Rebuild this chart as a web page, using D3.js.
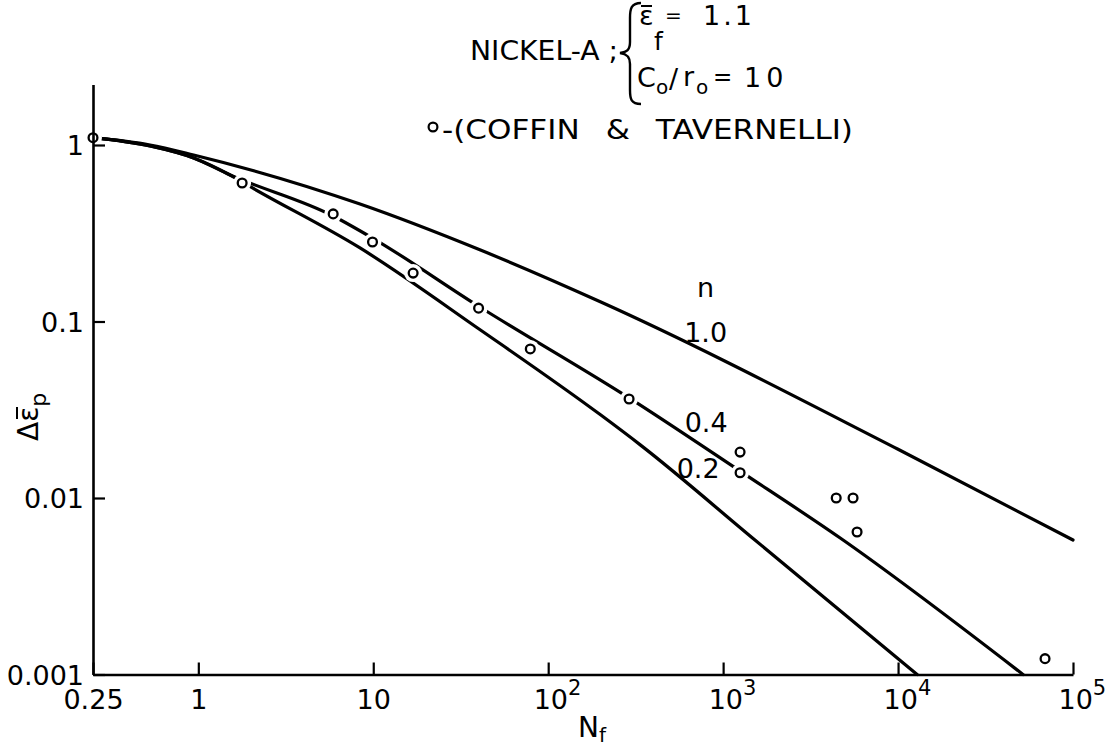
<!DOCTYPE html>
<html>
<head>
<meta charset="utf-8">
<script src="https://cdn.jsdelivr.net/npm/d3@7"></script>
<style>
  body { margin: 0; background: #fff; }
  svg text { font-family: "DejaVu Sans", "Liberation Sans", sans-serif; fill: #000; }
</style>
</head>
<body>
<script>
// n = 1.0 curve (N_f, delta eps_p)
const n10_N = [0.25, 0.53, 0.94, 8.4, 41, 200, 10000, 100000];
const n10_e = [1.1, 1.0, 0.878, 0.463, 0.254, 0.129, 0.0189, 0.00578];
// n = 0.4 curve
const n04_N = [0.25, 0.53, 0.94, 1.52, 5.9, 9.9, 40, 290, 1250, 4670, 51800];
const n04_e = [1.1, 0.987, 0.844, 0.676, 0.396, 0.297, 0.122, 0.0369, 0.0142, 0.00593, 0.001];
// n = 0.2 curve
const n02_N = [0.25, 0.53, 0.94, 1.52, 2.04, 8.4, 41, 200, 336, 1520, 12850];
const n02_e = [1.1, 0.987, 0.844, 0.676, 0.571, 0.261, 0.0895, 0.0295, 0.0200, 0.00578, 0.001];

// Coffin & Tavernelli test points
const pts_N = [0.25, 1.78, 5.9, 9.9, 16.9, 40, 79, 290, 1250, 1250, 4430, 5530, 5830, 69200];
const pts_e = [1.1, 0.609, 0.407, 0.282, 0.188, 0.119, 0.0699, 0.0364, 0.0182, 0.0139, 0.0100, 0.0100, 0.00642, 0.00123];

// curve labels
const lab_text = ["n", "1.0", "0.4", "0.2"];
const lab_N = [794, 794, 800, 720];
const lab_e = [0.1377, 0.0765, 0.0237, 0.0130];

// axis ticks
const xTicks = [0.25, 1, 10, 100, 1000, 10000, 100000];
const xTickText = ["0.25", "1", "10", "10", "10", "10", "10"];
const xTickExp = [null, null, null, "2", "3", "4", "5"];
const yTicks = [1, 0.1, 0.01, 0.001];
const yTickText = ["1", "0.1", "0.01", "0.001"];

const width = 1107, height = 750;
const decade = 176.5;

const svg = d3.select("body").append("svg")
    .attr("width", width)
    .attr("height", height);

const x = d3.scaleLog().domain([0.25, 1e5]).range([93, 1073]);
const y = d3.scaleLog().domain([0.001, 2.2]).range([674.5, 674.5 - decade * Math.log10(2200)]);

const line = d3.line()
    .x(d => x(d[0]))
    .y(d => y(d[1]))
    .curve(d3.curveMonotoneX);

const curves = [
    d3.zip(n10_N, n10_e),
    d3.zip(n04_N, n04_e),
    d3.zip(n02_N, n02_e)
];

svg.selectAll(".curve")
    .data(curves)
    .join("path")
    .attr("class", "curve")
    .attr("d", line)
    .attr("fill", "none")
    .attr("stroke", "#000")
    .attr("stroke-width", 3.2)
    .attr("stroke-linecap", "round");

const pts = d3.zip(pts_N, pts_e);

// white gap round each point
svg.selectAll(".halo")
    .data(pts)
    .join("circle")
    .attr("class", "halo")
    .attr("cx", d => x(d[0]))
    .attr("cy", d => y(d[1]))
    .attr("r", 9)
    .attr("fill", "#fff");

svg.selectAll(".pt")
    .data(pts)
    .join("circle")
    .attr("class", "pt")
    .attr("cx", d => x(d[0]))
    .attr("cy", d => y(d[1]))
    .attr("r", 4.4)
    .attr("fill", "#fff")
    .attr("stroke", "#000")
    .attr("stroke-width", 2.3);

// x axis
const xAxis = d3.axisBottom(x)
    .tickValues(xTicks)
    .tickSizeInner(-12)
    .tickSizeOuter(0)
    .tickFormat(() => "");

const xg = svg.append("g")
    .attr("transform", "translate(0," + y(0.001) + ")")
    .call(xAxis);

xg.select(".domain").attr("stroke-width", 2.6);
xg.selectAll(".tick line").attr("stroke-width", 2.2);
xg.selectAll(".tick text").each(function (d, i) {
    const t = d3.select(this)
        .attr("y", 34)
        .attr("dy", null)
        .attr("font-size", 27)
        .attr("font-family", null);
    if (xTickExp[i] == null) {
        t.attr("text-anchor", "middle").text(xTickText[i]);
    } else {
        t.attr("text-anchor", "start").attr("x", -15);
        t.append("tspan").text(xTickText[i]);
        t.append("tspan").attr("dy", -14).attr("font-size", 21).text(xTickExp[i]);
    }
});

// y axis
const yAxis = d3.axisLeft(y)
    .tickValues(yTicks)
    .tickSizeInner(-12)
    .tickSizeOuter(0)
    .tickPadding(9)
    .tickFormat((d, i) => yTickText[i]);

const yg = svg.append("g")
    .attr("transform", "translate(" + x(0.25) + ",0)")
    .call(yAxis);

yg.select(".domain").attr("stroke-width", 2.6);
yg.selectAll(".tick line").attr("stroke-width", 2.2);
yg.selectAll(".tick text")
    .attr("font-size", 27)
    .attr("font-family", null)
    .attr("x", -9)
    .attr("dy", "0.36em");

// curve labels
svg.selectAll(".lab")
    .data(lab_text)
    .join("text")
    .attr("class", "lab")
    .attr("x", (d, i) => x(lab_N[i]))
    .attr("y", (d, i) => y(lab_e[i]))
    .attr("text-anchor", "middle")
    .attr("font-size", 27)
    .text(d => d);

// axis titles
const xt = svg.append("text")
    .attr("x", 578)
    .attr("y", 737)
    .attr("font-size", 28);
xt.append("tspan").text("N");
xt.append("tspan").attr("dy", 5).attr("font-size", 20).text("f");

const yt = svg.append("g")
    .attr("transform", "translate(38,415) rotate(-90)");
const ytText = yt.append("text")
    .attr("x", -26)
    .attr("y", 0)
    .attr("font-size", 28);
ytText.append("tspan").text("Δε");
ytText.append("tspan").attr("dy", 8).attr("font-size", 22).text("p");
yt.append("line")
    .attr("x1", -4).attr("x2", 8)
    .attr("y1", -21).attr("y2", -21)
    .attr("stroke", "#000")
    .attr("stroke-width", 2);

// header block
svg.append("text")
    .attr("x", 470)
    .attr("y", 60)
    .attr("font-size", 27)
    .attr("textLength", 148)
    .attr("lengthAdjust", "spacingAndGlyphs")
    .text("NICKEL-A ;");

svg.append("path")
    .attr("d", "M641,3 C631,3 630,9 630,18 L630,42 C630,50 627,52 620,53 C627,54 630,57 630,64 L630,90 C630,99 631,104 641,104")
    .attr("fill", "none")
    .attr("stroke", "#000")
    .attr("stroke-width", 2.4);

svg.append("text").attr("x", 639).attr("y", 25).attr("font-size", 27).text("ε");
svg.append("line")
    .attr("x1", 641).attr("x2", 652)
    .attr("y1", 6).attr("y2", 6)
    .attr("stroke", "#000")
    .attr("stroke-width", 2);
svg.append("text").attr("x", 654).attr("y", 50).attr("font-size", 25).text("f");
svg.append("text").attr("x", 665).attr("y", 22).attr("font-size", 20).text("=");
svg.append("text").attr("x", 703).attr("y", 25).attr("font-size", 27)
    .attr("letter-spacing", 3).text("1.1");

svg.append("text").attr("x", 637).attr("y", 87).attr("font-size", 27).text("C");
svg.append("text").attr("x", 656).attr("y", 94).attr("font-size", 20).text("o");
svg.append("text").attr("x", 669).attr("y", 88).attr("font-size", 27).text("/");
svg.append("text").attr("x", 683).attr("y", 86).attr("font-size", 27).text("r");
svg.append("text").attr("x", 696).attr("y", 94).attr("font-size", 20).text("o");
svg.append("text").attr("x", 713).attr("y", 85).attr("font-size", 23).text("=");
svg.append("text").attr("x", 744).attr("y", 87).attr("font-size", 27)
    .attr("letter-spacing", 5).text("10");

svg.append("circle")
    .attr("cx", 433)
    .attr("cy", 127)
    .attr("r", 4.4)
    .attr("fill", "#fff")
    .attr("stroke", "#000")
    .attr("stroke-width", 2.2);
svg.append("text")
    .attr("x", 442)
    .attr("y", 139)
    .attr("font-size", 27)
    .attr("word-spacing", 14)
    .attr("textLength", 411)
    .attr("lengthAdjust", "spacingAndGlyphs")
    .text("-(COFFIN & TAVERNELLI)");
</script>
</body>
</html>
